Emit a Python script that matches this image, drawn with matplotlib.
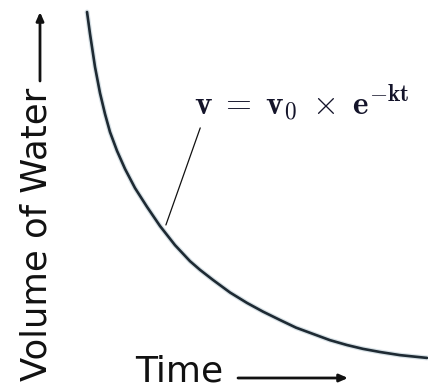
import matplotlib.pyplot as plt
import numpy as np

plt.rcParams['mathtext.fontset'] = 'cm'

# volume of water over time
time = [0.0, 0.088, 0.235, 0.382, 0.529, 0.676, 0.882, 1.118, 1.412, 1.765,
        2.147, 2.588, 3.029, 3.324, 3.706, 4.206, 4.706, 5.176, 5.676, 6.147,
        6.647, 7.147, 7.647, 8.118, 8.618, 9.206, 10.0]
volume = [100.0, 93.7, 84.2, 76.7, 70.7, 65.5, 60.1, 54.9, 49.4, 44.0,
          38.5, 33.0, 28.4, 25.9, 23.0, 19.4, 16.4, 13.9, 11.5, 9.3,
          7.5, 5.7, 4.3, 3.2, 2.3, 1.4, 0.6]

equation = r'$\mathbf{v\;=\;v_0\;\times\;e^{-kt}}$'
ylabel = 'Volume of Water'
xlabel = 'Time'

W, H = 428, 390
fig = plt.figure(figsize=(W / 100, H / 100), dpi=100)
ax = fig.add_axes([0, 0, 1, 1])
ax.set_xlim(-2.56, 10.03)
ax.set_ylim(-8.62, 103.45)
ax.axis('off')

# soft halo under the curve, then the curve itself
ax.plot(time, volume, color='#8fa9b8', lw=3.6, alpha=0.35,
        solid_capstyle='round', solid_joinstyle='round')
ax.plot(time, volume, color='#1e2a33', lw=1.9,
        solid_capstyle='round', solid_joinstyle='round')

# leader line from the equation down to the curve
ax.annotate('', xy=(2.32, 38.8), xytext=(3.33, 66.7),
            arrowprops=dict(arrowstyle='-', color='#111111', lw=0.9,
                            shrinkA=0, shrinkB=0))


def fx(px):
    return px / W


def fy(py):
    return 1 - py / H


fig.text(fx(194), fy(115), equation, fontsize=24, color='#14142a',
         ha='left', va='baseline')

# axis labels with their arrows
fig.text(fx(47), fy(234), ylabel, fontsize=25.5, rotation=90,
         rotation_mode='anchor', ha='center', va='baseline',
         family='DejaVu Sans', color='#111111')
fig.text(fx(135), fy(382), xlabel, fontsize=26, ha='left', va='baseline',
         family='DejaVu Sans', color='#111111')

arrow_style = dict(arrowstyle='-|>,head_length=0.5,head_width=0.22',
                   color='#111111', lw=2.0, shrinkA=0, shrinkB=0)
ax.annotate('', xy=(fx(40), fy(12)), xytext=(fx(40), fy(81)),
            xycoords='figure fraction', textcoords='figure fraction',
            arrowprops=arrow_style)
ax.annotate('', xy=(fx(348), fy(378)), xytext=(fx(238), fy(378)),
            xycoords='figure fraction', textcoords='figure fraction',
            arrowprops=arrow_style)

fig.savefig('out.png', dpi=100, facecolor='white')
